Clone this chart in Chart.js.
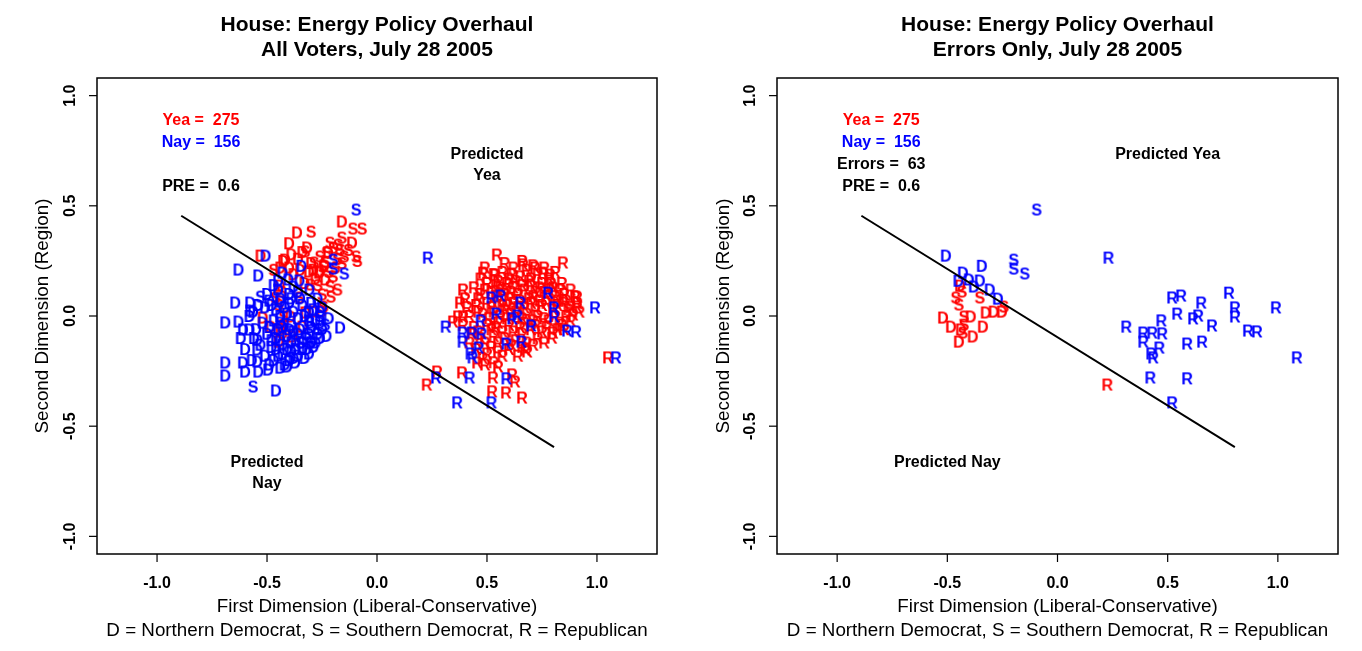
<!DOCTYPE html>
<html><head><meta charset="utf-8">
<script src="https://cdn.jsdelivr.net/npm/chart.js@4.4.1/dist/chart.umd.min.js"></script>
<style>
html,body{margin:0;padding:0;background:#fff;}
#wrap{position:relative;width:1362px;height:651px;overflow:hidden;}
canvas{position:absolute;top:0;}
</style></head><body>
<div id="wrap"><canvas id="c1" width="681" height="651" style="left:0"></canvas><canvas id="c2" width="681" height="651" style="left:681px"></canvas></div>
<script>
// ---------- data ----------
const xTicks = [-1.0, -0.5, 0.0, 0.5, 1.0];
const yTicks = [-1.0, -0.5, 0.0, 0.5, 1.0];
const tickText = ['-1.0', '-0.5', '0.0', '0.5', '1.0'];
const yeaCount = 275, nayCount = 156, errorCount = 63, preValue = '0.6';
const cutLineX = [-0.89, 0.805];
const cutLineY = [0.455, -0.595];
const titleLine1 = 'House: Energy Policy Overhaul';
const titleLeft2 = 'All Voters, July 28 2005';
const titleRight2 = 'Errors Only, July 28 2005';
const xTitle = 'First Dimension (Liberal-Conservative)';
const xSub = 'D = Northern Democrat, S = Southern Democrat, R = Republican';
const yTitle = 'Second Dimension (Region)';

// Yea voters (red)
const yeaD_correct = [[-0.40,0.33],[-0.364,0.379],[-0.16,0.429],[-0.318,0.311],[-0.223,0.288],[-0.53,0.274],[-0.418,0.256],[-0.31,0.202],[-0.26,0.202],[-0.114,0.333],[-0.427,0.25],[-0.264,0.197],[-0.236,0.166],[-0.44,0.22],[-0.36,0.26],[-0.30,0.24],[-0.28,0.17],[-0.33,0.15],[-0.38,0.19],
 [-0.34,0.29],[-0.39,0.28],[-0.35,0.21],[-0.24,0.23],[-0.29,0.21],[-0.40,0.22]];
const yeaD_error = [[-0.443,0.138],[-0.326,0.016],[-0.29,0.02],[-0.253,0.02],[-0.52,-0.007],[-0.394,-0.002],[-0.484,-0.048],[-0.439,-0.061],[-0.385,-0.093],[-0.448,-0.116],[-0.339,-0.048]];
const yeaS_correct = [[-0.11,0.397],[-0.068,0.397],[-0.30,0.383],[-0.16,0.356],[-0.214,0.333],[-0.177,0.324],[-0.327,0.293],[-0.168,0.302],[-0.095,0.27],[-0.09,0.25],[-0.245,0.224],[-0.286,0.243],[-0.236,0.247],[-0.305,0.143],[-0.21,0.088],[-0.214,0.134],[-0.25,0.098],[-0.20,0.18],[-0.19,0.22],[-0.15,0.27],[-0.23,0.29],[-0.27,0.14],[-0.18,0.12],[-0.47,0.21],
 [-0.18,0.26],[-0.13,0.30],[-0.20,0.31],[-0.26,0.27],[-0.22,0.20],[-0.16,0.24]];
const yeaS_error = [[-0.434,0.111],[-0.462,0.084],[-0.448,0.052],[-0.353,0.084],[-0.244,0.043],[-0.425,-0.002],[-0.43,-0.075],[-0.425,-0.039]];
const yeaR_correct = [[0.545,0.279],[0.664,0.234],[0.718,0.22],[0.845,0.243],[0.482,0.197],[0.536,0.188],[0.755,0.197],[0.786,0.188],[0.782,0.17],[0.391,0.12],[0.377,0.061],[0.368,-0.002],[0.909,0.088],[0.909,0.043],[0.845,0.061],[0.891,0.007],[0.345,-0.025],[0.391,-0.002],[0.80,-0.075],[0.795,-0.098],[0.673,-0.152],[0.55,-0.161],[1.05,-0.188],[0.682,-0.161],[0.455,-0.211],[0.491,-0.22],[0.55,-0.229],[0.273,-0.252],[0.386,-0.256],[0.527,-0.279],[0.614,-0.265],[0.627,-0.297],[0.523,-0.342],[0.586,-0.347],[0.659,-0.37],
 [0.50,0.15],[0.55,0.16],[0.60,0.17],[0.65,0.18],[0.70,0.17],[0.75,0.15],[0.80,0.13],[0.85,0.10],
 [0.47,0.10],[0.52,0.11],[0.57,0.12],[0.62,0.13],[0.67,0.12],[0.72,0.11],[0.77,0.09],[0.82,0.07],[0.88,0.04],
 [0.45,0.05],[0.50,0.06],[0.55,0.07],[0.60,0.08],[0.65,0.07],[0.70,0.06],[0.75,0.05],[0.80,0.03],[0.86,0.00],
 [0.42,0.00],[0.48,0.01],[0.53,0.02],[0.58,0.03],[0.63,0.02],[0.68,0.01],[0.73,0.00],[0.78,-0.02],[0.83,-0.03],
 [0.44,-0.05],[0.50,-0.04],[0.55,-0.03],[0.60,-0.04],[0.65,-0.05],[0.70,-0.06],[0.75,-0.07],[0.85,-0.06],
 [0.47,-0.10],[0.53,-0.09],[0.58,-0.10],[0.63,-0.11],[0.68,-0.12],[0.73,-0.10],
 [0.52,-0.14],[0.60,-0.15],[0.45,-0.15],[0.66,-0.08],[0.57,0.20],[0.62,0.22],[0.68,0.21],[0.53,0.19],[0.73,0.19],
 [0.59,-0.01],[0.64,0.10],[0.56,0.13],[0.70,0.14],[0.78,0.12],[0.40,0.08],[0.43,-0.08],[0.88,-0.02],[0.92,0.02],
 [0.49,0.22],[0.58,0.24],[0.66,0.25],[0.71,0.23],[0.76,0.22],[0.81,0.20],[0.61,0.19],[0.47,0.17],[0.44,0.13],[0.84,0.15],[0.88,0.12],[0.90,0.09],
 [0.54,0.14],[0.59,0.15],[0.69,0.16],[0.74,0.13],[0.79,0.15],[0.83,0.12],[0.63,0.16],
 [0.49,0.12],[0.54,0.09],[0.61,0.11],[0.66,0.14],[0.71,0.09],[0.76,0.11],[0.81,0.09],[0.86,0.07],[0.91,0.06],
 [0.46,0.08],[0.52,0.04],[0.57,0.05],[0.62,0.06],[0.67,0.04],[0.72,0.03],[0.77,0.06],[0.82,0.05],[0.87,0.03],
 [0.41,0.04],[0.46,0.02],[0.51,-0.01],[0.56,0.00],[0.61,0.01],[0.66,-0.01],[0.71,-0.02],[0.76,-0.01],[0.81,0.00],[0.84,-0.04],
 [0.39,-0.04],[0.46,-0.07],[0.52,-0.06],[0.57,-0.07],[0.62,-0.07],[0.67,-0.03],[0.72,-0.04],[0.77,-0.05],[0.82,-0.06],
 [0.49,-0.12],[0.55,-0.12],[0.61,-0.13],[0.66,-0.14],[0.71,-0.13],[0.76,-0.12],[0.50,-0.17],[0.57,-0.18],[0.64,-0.18],[0.42,-0.12],[0.48,-0.19],[0.53,-0.21],
 [0.59,0.05],[0.64,0.04],[0.69,0.08],[0.74,0.07],[0.54,-0.05],[0.58,0.10]];
const yeaR_error = [[0.226,-0.311]];

// Nay voters (blue)
const nayD_correct = [[-0.63,0.211],[-0.54,0.184],[-0.645,0.061],[-0.577,0.061],[-0.44,0.066],[-0.564,0.02],[-0.51,0.039],[-0.577,0.025],[-0.69,-0.029],[-0.63,-0.025],[-0.61,-0.061],[-0.58,-0.061],[-0.168,-0.052],[-0.545,-0.107],[-0.545,-0.152],[-0.69,-0.211],[-0.61,-0.211],[-0.545,-0.206],[-0.69,-0.27],[-0.60,-0.252],[-0.54,-0.252],[-0.495,-0.243],[-0.44,-0.234],[-0.41,-0.229],[-0.373,-0.211],[-0.46,-0.338],
 [-0.50,0.10],[-0.45,0.12],[-0.40,0.10],[-0.35,0.08],[-0.30,0.06],[-0.25,0.04],[-0.48,0.05],[-0.42,0.04],[-0.38,0.02],[-0.33,0.00],[-0.28,-0.02],[-0.22,-0.01],[-0.52,-0.03],[-0.47,-0.02],[-0.43,-0.05],[-0.39,-0.04],[-0.35,-0.06],[-0.30,-0.05],[-0.25,-0.06],[-0.50,-0.08],[-0.46,-0.10],[-0.41,-0.09],[-0.37,-0.11],[-0.32,-0.10],[-0.28,-0.12],[-0.53,-0.13],[-0.48,-0.14],[-0.43,-0.13],[-0.39,-0.16],[-0.34,-0.15],[-0.29,-0.14],[-0.51,-0.18],[-0.45,-0.18],[-0.40,-0.20],[-0.36,-0.18],[-0.31,-0.17],[-0.55,-0.06],[-0.44,0.00],[-0.36,0.11],[-0.40,0.06],[-0.26,0.02],[-0.23,-0.09],[-0.47,0.14],[-0.42,-0.22],[-0.49,-0.22],[-0.33,-0.19],[-0.27,-0.08],[-0.38,-0.07],[-0.31,0.02],[-0.45,-0.06],
 [-0.49,0.07],[-0.44,0.08],[-0.39,0.08],[-0.34,0.05],[-0.29,0.03],[-0.46,0.03],[-0.41,0.01],[-0.36,-0.01],[-0.31,-0.02],[-0.26,-0.03],[-0.49,-0.05],[-0.44,-0.03],[-0.40,-0.06],[-0.36,-0.08],[-0.31,-0.08],[-0.26,-0.10],[-0.48,-0.11],[-0.44,-0.11],[-0.39,-0.12],[-0.34,-0.12],[-0.30,-0.12],[-0.46,-0.15],[-0.41,-0.15],[-0.37,-0.15],[-0.32,-0.15],[-0.47,-0.20],[-0.43,-0.17],[-0.38,-0.19],[-0.56,-0.10],[-0.58,0.00],[-0.54,0.05],[-0.60,-0.15],[-0.57,-0.20],[-0.62,-0.10]];
const nayD_error = [[-0.507,0.274],[-0.344,0.228],[-0.43,0.197],[-0.403,0.166],[-0.353,0.161],[-0.38,0.134],[-0.308,0.12],[-0.271,0.079],[-0.45,0.16]];
const nayS_correct = [[-0.53,0.088],[-0.305,-0.029],[-0.236,-0.039],[-0.305,-0.12],[-0.35,-0.12],[-0.564,-0.32],[-0.27,-0.06],[-0.32,-0.08],[-0.26,0.00]];
const nayS_error = [[-0.095,0.483],[-0.199,0.256],[-0.199,0.215],[-0.149,0.193]];
const nayR_correct = [[0.268,-0.279],[0.364,-0.392]];
const nayR_error = [[0.231,0.265],[0.52,0.084],[0.561,0.093],[0.652,0.061],[0.778,0.106],[0.805,0.039],[0.805,-0.002],[0.991,0.039],[0.543,0.011],[0.471,-0.02],[0.615,-0.011],[0.638,0.002],[0.701,-0.043],[0.312,-0.048],[0.389,-0.075],[0.43,-0.075],[0.475,-0.079],[0.389,-0.116],[0.864,-0.066],[0.905,-0.07],[0.588,-0.125],[0.656,-0.116],[0.462,-0.143],[0.425,-0.17],[0.434,-0.188],[1.086,-0.188],[0.421,-0.279],[0.588,-0.283],[0.52,-0.392]];

// ---------- styling ----------
const FONT = '"Liberation Sans", Arial, Helvetica, sans-serif';
const RED = '#FF0000', BLUE = '#0000FF';

function letterImg(ch, color) {
  const c = document.createElement('canvas');
  c.width = 24; c.height = 24;
  const g = c.getContext('2d');
  g.font = 'bold 16px ' + FONT;
  g.fillStyle = color;
  g.textAlign = 'center';
  g.textBaseline = 'alphabetic';
  g.fillText(ch, 12, 17.7);
  return c;
}
const toXY = arr => arr.map(p => ({x: p[0], y: p[1]}));

function letterSet(label, arr, ch, color, order) {
  return {type: 'scatter', label, data: toXY(arr), pointStyle: letterImg(ch, color),
          pointRadius: 8, pointHoverRadius: 8, showLine: false, order};
}
function cutLineSet() {
  return {type: 'scatter', label: 'cutting line', data: cutLineX.map((x, i) => ({x, y: cutLineY[i]})),
          showLine: true, borderColor: '#000', borderWidth: 2, pointRadius: 0, order: 0};
}

function decor(opts) {
  return {
    id: 'decor',
    afterDraw(chart) {
      const ctx = chart.ctx, xs = chart.scales.x, ys = chart.scales.y, a = chart.chartArea;
      ctx.save();
      ctx.strokeStyle = '#000'; ctx.lineWidth = 1.5;
      ctx.strokeRect(a.left, a.top, a.right - a.left, a.bottom - a.top);
      ctx.lineWidth = 1.2;
      ctx.fillStyle = '#000';
      ctx.font = 'bold 16px ' + FONT;
      ctx.textAlign = 'center'; ctx.textBaseline = 'middle';
      xTicks.forEach((v, i) => {
        const px = xs.getPixelForValue(v);
        ctx.beginPath(); ctx.moveTo(px, a.bottom); ctx.lineTo(px, a.bottom + 8); ctx.stroke();
        ctx.fillText(tickText[i], px, a.bottom + 30);
      });
      yTicks.forEach((v, i) => {
        const py = ys.getPixelForValue(v);
        ctx.beginPath(); ctx.moveTo(a.left - 8, py); ctx.lineTo(a.left, py); ctx.stroke();
        ctx.save(); ctx.translate(a.left - 26, py); ctx.rotate(-Math.PI / 2);
        ctx.fillText(tickText[i], 0, 0); ctx.restore();
      });
      const cx = (a.left + a.right) / 2;
      ctx.font = 'bold 21px ' + FONT;
      ctx.fillText(titleLine1, cx, 25);
      ctx.fillText(opts.title2, cx, 50);
      ctx.font = '18.8px ' + FONT;
      ctx.fillText(xTitle, cx, 607);
      ctx.fillText(xSub, cx, 631);
      ctx.save(); ctx.translate(43, (a.top + a.bottom) / 2); ctx.rotate(-Math.PI / 2);
      ctx.fillText(yTitle, 0, 0); ctx.restore();
      // annotations
      ctx.font = 'bold 16px ' + FONT;
      opts.notes.forEach(n => {
        ctx.fillStyle = n.color;
        const px = xs.getPixelForValue(n.x), py = ys.getPixelForValue(n.y) + 3;
        n.lines.forEach((t, k) => {
          ctx.fillText(t, px, py + (k - (n.lines.length - 1) / 2) * 21);
        });
      });
      ctx.restore();
    }
  };
}

function makeChart(id, sets, padLeft, opts) {
  new Chart(document.getElementById(id), {
    type: 'scatter',
    data: {datasets: sets},
    options: {
      responsive: false, animation: false, devicePixelRatio: 1,
      layout: {padding: {left: padLeft, right: 24, top: 78, bottom: 97}},
      plugins: {legend: {display: false}, tooltip: {enabled: false}, title: {display: false}},
      scales: {
        x: {type: 'linear', min: -1.273, max: 1.273, display: false},
        y: {type: 'linear', min: -1.08, max: 1.08, display: false}
      }
    },
    plugins: [decor(opts)]
  });
}

const leftSets = [
  cutLineSet(),
  letterSet('Nay R', nayR_correct.concat(nayR_error), 'R', BLUE, 1),
  letterSet('Nay S', nayS_correct.concat(nayS_error), 'S', BLUE, 2),
  letterSet('Nay D', nayD_correct.concat(nayD_error), 'D', BLUE, 3),
  letterSet('Yea R', yeaR_correct.concat(yeaR_error), 'R', RED, 4),
  letterSet('Yea S', yeaS_correct.concat(yeaS_error), 'S', RED, 5),
  letterSet('Yea D', yeaD_correct.concat(yeaD_error), 'D', RED, 6)
];
const rightSets = [
  cutLineSet(),
  letterSet('Nay R errors', nayR_error, 'R', BLUE, 1),
  letterSet('Nay S errors', nayS_error, 'S', BLUE, 2),
  letterSet('Nay D errors', nayD_error, 'D', BLUE, 3),
  letterSet('Yea R errors', yeaR_error, 'R', RED, 4),
  letterSet('Yea S errors', yeaS_error, 'S', RED, 5),
  letterSet('Yea D errors', yeaD_error, 'D', RED, 6)
];

makeChart('c1', leftSets, 97, {
  title2: titleLeft2,
  notes: [
    {x: -0.8, y: 0.9, lines: ['Yea =  ' + yeaCount], color: RED},
    {x: -0.8, y: 0.8, lines: ['Nay =  ' + nayCount], color: BLUE},
    {x: -0.8, y: 0.6, lines: ['PRE =  ' + preValue], color: '#000'},
    {x: 0.5, y: 0.7, lines: ['Predicted', 'Yea'], color: '#000'},
    {x: -0.5, y: -0.7, lines: ['Predicted', 'Nay'], color: '#000'}
  ]
});
makeChart('c2', rightSets, 96, {
  title2: titleRight2,
  notes: [
    {x: -0.8, y: 0.9, lines: ['Yea =  ' + yeaCount], color: RED},
    {x: -0.8, y: 0.8, lines: ['Nay =  ' + nayCount], color: BLUE},
    {x: -0.8, y: 0.7, lines: ['Errors =  ' + errorCount], color: '#000'},
    {x: -0.8, y: 0.6, lines: ['PRE =  ' + preValue], color: '#000'},
    {x: 0.5, y: 0.745, lines: ['Predicted Yea'], color: '#000'},
    {x: -0.5, y: -0.65, lines: ['Predicted Nay'], color: '#000'}
  ]
});
</script>
</body></html>
